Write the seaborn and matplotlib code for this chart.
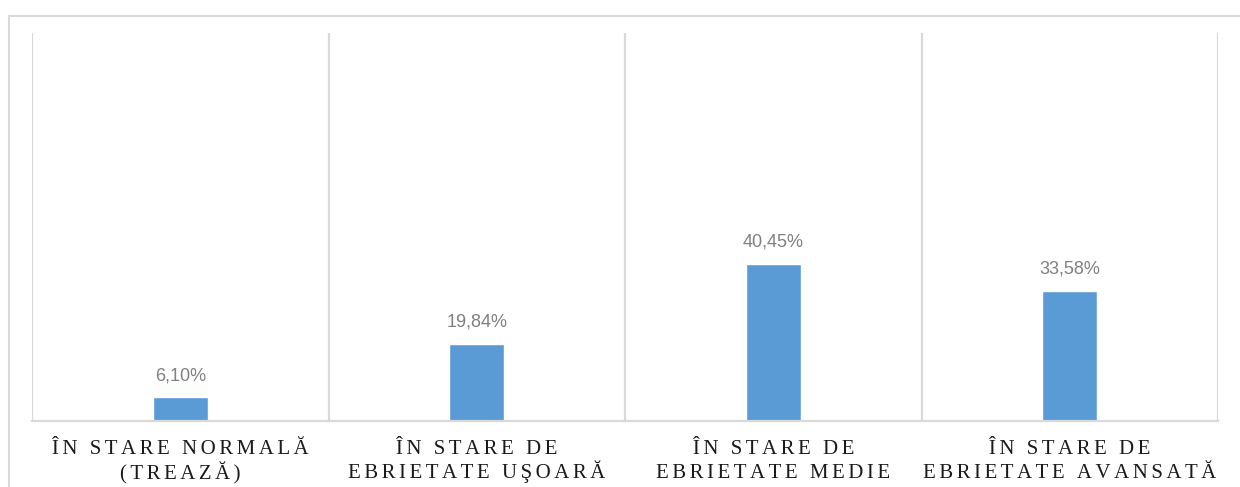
import numpy as np
import pandas as pd
import matplotlib
matplotlib.use("Agg")
import matplotlib.pyplot as plt
from matplotlib.patches import Rectangle
import seaborn as sns

categories = ["ÎN STARE NORMALĂ\n(TREAZĂ)",
              "ÎN STARE DE\nEBRIETATE UŞOARĂ",
              "ÎN STARE DE\nEBRIETATE MEDIE",
              "ÎN STARE DE\nEBRIETATE AVANSATĂ"]
values = [6.10, 19.84, 40.45, 33.58]
value_labels = ["6,10%", "19,84%", "40,45%", "33,58%"]

bar_color = "#5b9bd5"
grid_color = "#d9d9d9"


def spaced(s):
    # imitate the wide letter spacing of the original labels
    return "\u200a\u200a".join(s)


sns.set_style("white")
plt.rcParams['font.family'] = ['Liberation Sans', 'DejaVu Sans']

W, H = 1240, 487
fig = plt.figure(figsize=(W / 100, H / 100), dpi=100)
ax = fig.add_axes([32 / W, (H - 421) / H, 1186 / W, 388 / H])

df = pd.DataFrame({"cat": categories, "val": values})
sns.barplot(data=df, x="cat", y="val", color=bar_color, width=0.185,
            saturation=1, ax=ax)

ax.set_ylim(0, 100)
ax.set_xlim(-0.5, len(categories) - 0.5)

# value labels
for i, (v, lab) in enumerate(zip(values, value_labels)):
    ax.annotate(lab, (i, v), xytext=(0, 9.5), textcoords="offset points",
                ha="center", va="bottom", color="#808080", fontsize=13)

# category separators
ax.set_xticks(np.arange(-0.5, len(categories)), minor=True)
ax.grid(axis="x", which="minor", color=grid_color, linewidth=1.6)
ax.grid(axis="y", visible=False)
ax.tick_params(axis="x", which="both", length=0)
ax.set_yticks([])
ax.set_xticks(range(len(categories)))
ax.set_xticklabels([])

# category labels, two lines each, placed on fixed baselines
for i, cat in enumerate(categories):
    for j, line in enumerate(cat.split("\n")):
        ax.annotate(spaced(line), (i, 0), xycoords=("data", "axes fraction"),
                    xytext=(0, -24 - 17.1 * j), textcoords="offset points",
                    ha="center", va="baseline", fontsize=15,
                    family=['Liberation Serif', 'DejaVu Serif'],
                    color="#1a1a1a", annotation_clip=False)

for side in ["top", "right", "left"]:
    ax.spines[side].set_visible(False)
ax.spines["bottom"].set_color(grid_color)
ax.spines["bottom"].set_linewidth(1.6)
ax.set_xlabel("")
ax.set_ylabel("")

# outer chart frame (runs off the right and bottom edges)
fig.patches.append(Rectangle((8.5 / W, -0.1), 1.2, 1 - 16 / H + 0.1,
                             transform=fig.transFigure, fill=False,
                             edgecolor=grid_color, linewidth=1.5))

fig.savefig("out.png", dpi=100)
